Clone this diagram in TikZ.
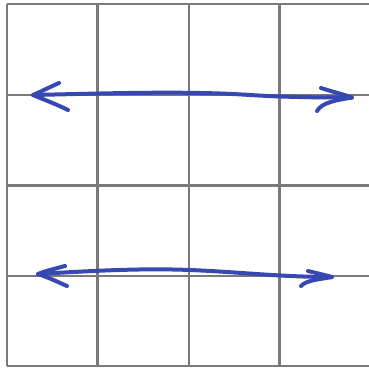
\documentclass[tikz,border=0pt]{standalone}
\begin{document}
\begin{tikzpicture}[x=1pt,y=-1pt,
  gridline/.style={draw=black!52, line width=2.3pt},
  stroke/.style={draw={rgb,255:red,55;green,72;blue,178}, line width=4pt, line cap=round, line join=round}]
\useasboundingbox (0,0) rectangle (369,373);
\fill[white] (0,0) rectangle (369,373);
% grid
\foreach \x in {7,97.5,189,279.5} \draw[gridline] (\x,4) -- (\x,366);
\foreach \y in {4,95,185.5,276,366} \draw[gridline] (7,\y) -- (369,\y);
% top arrow
\coordinate (tl) at (33,95);
\coordinate (tr) at (352,97.5);
\coordinate (tlu) at (59,83);
\coordinate (tld) at (68,110);
\coordinate (tru) at (321,88);
\coordinate (trd) at (317,111);
\draw[stroke] (tl) .. controls (120,93) and (190,91) .. (250,95) .. controls (290,97.5) and (330,97.5) .. (tr);
\draw[stroke] (tlu) .. controls (50,87) and (40,92) .. (tl) .. controls (45,100) and (58,105) .. (tld);
\draw[stroke] (tru) .. controls (330,91) and (342,94) .. (tr) .. controls (338,100) and (322,102) .. (trd);
% bottom arrow
\coordinate (bl) at (38,274);
\coordinate (br) at (332,277);
\coordinate (blu) at (65,266);
\coordinate (bld) at (67,286);
\coordinate (bru) at (308,271);
\coordinate (brd) at (301,286);
\draw[stroke] (bl) .. controls (90,271) and (140,268) .. (190,270) .. controls (240,272) and (280,277) .. (br);
\draw[stroke] (blu) .. controls (54,269) and (45,271) .. (bl) .. controls (50,278) and (60,283) .. (bld);
\draw[stroke] (bru) .. controls (316,273) and (325,275) .. (br) .. controls (322,279) and (306,280) .. (brd);
\end{tikzpicture}
\end{document}
